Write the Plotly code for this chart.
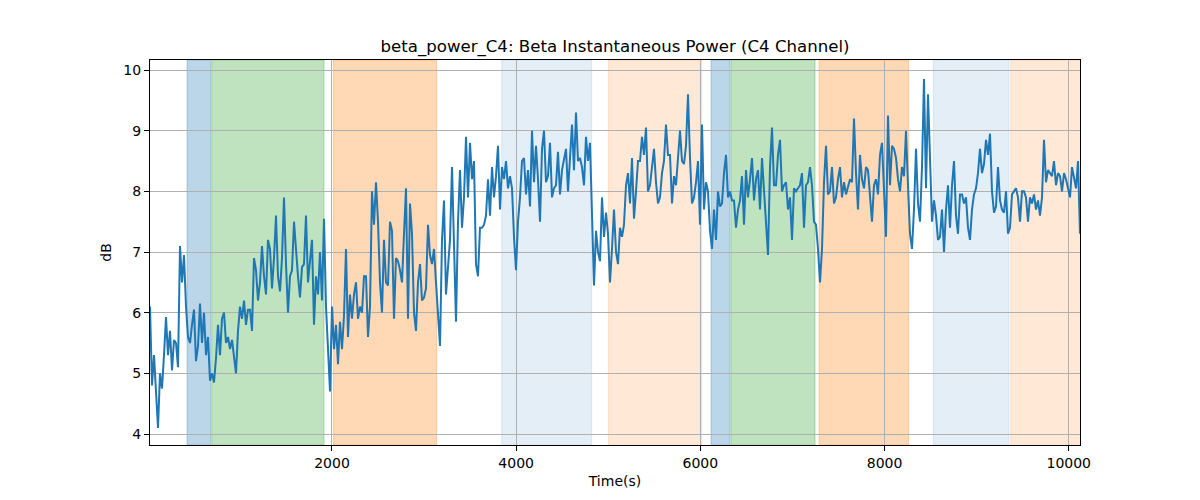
import numpy as np
import plotly.graph_objects as go

# Beta instantaneous power (dB)
beta_db = [
    # ~24 .. ~1270 s
    6.1, 4.8, 5.3, 4.6, 4.1, 5.0, 4.75, 5.3, 5.93, 5.3, 5.7, 5.05, 5.55, 5.5, 5.1, 7.1, 6.5, 6.95, 6.1, 5.6,
    5.5, 5.8, 6.05, 5.2, 5.45, 6.15, 5.5, 6.0, 5.3, 5.6, 4.88, 5.0, 4.85, 5.25, 5.8, 5.3, 5.9, 6.0, 5.5, 5.6,
    5.4, 5.55, 5.3, 5.0, 5.7, 6.1, 5.9, 6.2, 5.8, 6.05, 6.05, 5.7, 6.9, 6.7, 6.2, 6.5, 7.1, 6.6,
    # ~1290 .. ~2570 s
    6.3, 7.2, 7.05, 6.4, 6.9, 7.6, 6.6, 6.35, 6.9, 7.9, 6.8, 6.0, 6.6, 6.7, 7.5, 7.0, 6.6, 6.25, 6.75, 6.8,
    7.6, 6.5, 6.8, 7.2, 5.8, 6.6, 6.3, 7.0, 6.2, 7.55, 6.1, 5.4, 4.7, 6.1, 5.4, 5.8, 5.15, 5.85, 5.4, 5.95,
    7.05, 5.6, 6.3, 5.9, 6.3, 6.5, 5.9, 6.1, 6.0, 6.6, 6.6, 5.6, 6.1, 8.0, 7.45, 8.15, 7.5, 6.5, 6.0, 7.2,
    # ~2590 .. ~3800 s
    6.5, 6.45, 7.5, 7.35, 5.9, 6.9, 6.85, 6.7, 6.5, 7.3, 8.05, 5.9, 7.8, 7.3, 6.0, 5.7, 6.5, 6.8, 6.2, 6.25,
    6.4, 7.45, 6.95, 6.8, 7.05, 6.5, 5.9, 5.45, 7.2, 7.85, 6.3, 6.8, 7.2, 8.4, 6.9, 5.85, 7.5, 8.35, 7.4, 7.9,
    8.9, 7.9, 8.8, 8.2, 8.5, 6.8, 6.6, 7.4, 7.4, 7.45, 7.6, 8.2, 7.6, 8.4, 7.9, 8.25, 8.75,
    # ~3830 .. ~5070 s
    7.7, 8.4, 8.2, 8.5, 8.05, 8.25, 8.05, 7.25, 6.7, 7.5, 7.9, 8.5, 8.55, 7.95, 8.35, 7.75, 9.0, 8.15, 8.75, 8.2,
    7.5, 8.7, 9.0, 8.15, 8.25, 8.8, 7.9, 8.05, 8.1, 8.65, 7.95, 8.35, 8.5, 8.7, 8.0, 8.65, 9.1, 8.35, 9.3, 8.5,
    8.55, 8.4, 8.1, 8.9, 8.5, 8.8, 7.5, 6.45, 7.35, 7.0, 6.85, 7.9, 7.25, 7.65, 7.3, 6.5, 7.05, 7.7,
    # ~5090 .. ~6330 s
    7.0, 6.8, 7.4, 7.25, 7.45, 8.1, 8.3, 7.8, 8.55, 7.55, 8.0, 8.5, 8.5, 8.9, 8.6, 9.05, 8.0, 8.1, 8.4, 8.7,
    8.15, 7.8, 7.9, 8.3, 8.5, 9.1, 8.6, 8.6, 7.8, 8.25, 8.1, 8.6, 9.0, 8.5, 8.45, 8.75, 9.6, 8.55, 7.8, 7.9,
    8.15, 8.5, 7.45, 9.1, 7.7, 8.15, 8.0, 7.35, 7.05, 7.7, 7.2, 8.0, 7.75, 7.8, 8.3, 8.6, 7.9, 8.0,
    # ~6350 .. ~7570 s
    7.85, 7.85, 7.4, 7.7, 7.85, 8.25, 7.45, 8.35, 7.9, 8.2, 8.55, 7.85, 8.2, 8.35, 7.7, 8.55, 7.95, 7.4, 6.95, 8.4,
    9.05, 8.1, 8.1, 8.6, 8.85, 8.0, 8.1, 8.15, 7.7, 7.9, 7.2, 8.05, 8.0, 8.05, 8.1, 8.3, 7.4, 8.1, 8.15, 8.4,
    8.1, 7.5, 7.45, 7.05, 6.5, 7.05, 8.15, 8.75, 7.95, 8.0, 8.4, 7.8, 7.9, 8.2, 8.4, 7.9, 8.15,
    # ~7590 .. ~8830 s
    7.95, 8.1, 8.2, 8.15, 9.2, 8.3, 7.7, 8.6, 8.2, 8.05, 8.4, 8.35, 7.85, 7.5, 8.1, 8.2, 7.95, 8.6, 8.8, 8.0,
    7.25, 9.25, 8.1, 8.75, 8.7, 8.55, 8.2, 8.0, 8.4, 8.25, 9.0, 8.1, 7.3, 7.05, 7.7, 8.7, 7.8, 7.5, 8.4, 9.85,
    8.05, 9.6, 8.6, 7.5, 7.85, 7.6, 7.2, 7.25, 7.7, 7.0, 7.7, 8.1, 7.4, 8.1, 8.5, 7.6, 7.3, 7.95,
    # ~8850 .. ~10120 s
    7.95, 7.8, 7.9, 7.4, 7.2, 7.7, 7.95, 8.05, 8.3, 8.7, 8.3, 8.45, 8.85, 8.6, 8.95, 8.0, 7.65, 7.75, 8.4, 7.85,
    7.7, 7.65, 8.0, 7.3, 7.4, 7.95, 8.0, 8.05, 7.9, 7.5, 8.0, 8.0, 7.9, 7.5, 7.9, 7.8, 7.95, 7.7, 7.85, 7.6,
    7.9, 8.85, 8.15, 8.35, 8.3, 8.25, 8.5, 8.1, 8.3, 8.25, 8.0, 8.3, 8.2, 8.05, 7.9, 8.4, 8.2, 8.05, 8.5, 7.3,
]
time_start = 24
time_end = 10122
time_s = np.linspace(time_start, time_end, len(beta_db))

# Shaded intervals (seconds)
span_start = [426, 694, 2015, 3843, 5001, 6116, 6333, 7288, 8529, 9370]
span_end = [683, 1914, 3137, 4820, 6015, 6322, 7245, 8262, 9351, 10200]
span_rgb = ["31,119,180", "44,160,44", "255,127,14", "31,119,180", "255,127,14",
            "31,119,180", "44,160,44", "255,127,14", "31,119,180", "255,127,14"]
span_alpha = [0.3, 0.3, 0.3, 0.12, 0.17, 0.3, 0.3, 0.3, 0.12, 0.17]

x_ticks = [2000, 4000, 6000, 8000, 10000]
y_ticks = [4, 5, 6, 7, 8, 9, 10]

FONT = "DejaVu Sans"

fig = go.Figure()
fig.add_trace(go.Scatter(
    x=time_s, y=beta_db, mode="lines",
    line=dict(color="#1f77b4", width=2),
    showlegend=False, hoverinfo="skip",
))

for s, e, rgb, a in zip(span_start, span_end, span_rgb, span_alpha):
    fig.add_shape(
        type="rect", xref="x", yref="paper", x0=s, x1=e, y0=0, y1=1,
        fillcolor=f"rgba({rgb},{a})", line=dict(color=f"rgba({rgb},{a})", width=1),
        layer="below",
    )

axis_common = dict(
    showgrid=True, gridcolor="#b0b0b0", gridwidth=1,
    showline=True, mirror=True, linecolor="black", linewidth=1,
    ticks="outside", ticklen=5, tickwidth=1, tickcolor="black",
    tickfont=dict(family=FONT, size=14, color="black"),
    zeroline=False,
)

fig.update_layout(
    width=1200, height=500,
    margin=dict(l=150, r=120, t=60, b=55),
    paper_bgcolor="white", plot_bgcolor="white",
    font=dict(family=FONT, color="black"),
    title=dict(
        text="beta_power_C4: Beta Instantaneous Power (C4 Channel)",
        x=0.5, xref="paper", xanchor="center",
        y=1 - 46 / 500, yref="container", yanchor="middle",
        font=dict(family=FONT, size=16.6, color="black"),
    ),
    xaxis=dict(
        range=[time_start, time_end], tickvals=x_ticks,
        ticktext=[str(v) for v in x_ticks],
        title=dict(text="Time(s)", font=dict(family=FONT, size=14, color="black"), standoff=6),
        **axis_common,
    ),
    yaxis=dict(
        range=[3.819, 10.165], tickvals=y_ticks,
        ticktext=[str(v) for v in y_ticks],
        title=dict(text="dB", font=dict(family=FONT, size=14, color="black"), standoff=8),
        **axis_common,
    ),
)

fig.write_html(
    "out.html",
    config={"displayModeBar": False},
    post_script="document.body.style.margin='0';",
)
